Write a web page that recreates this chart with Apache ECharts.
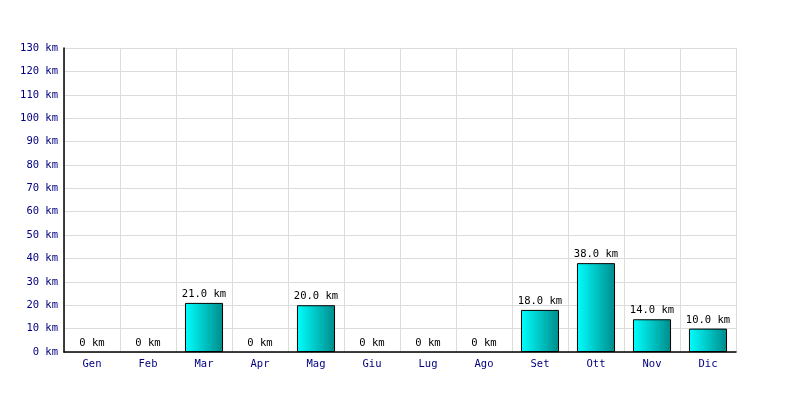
<!DOCTYPE html>
<html><head><meta charset="utf-8">
<script src="https://cdn.jsdelivr.net/npm/echarts@6/dist/echarts.min.js"></script>
<style>html,body{margin:0;padding:0;background:#fff}#c{width:800px;height:400px}</style>
</head><body><div id="c"></div>
<script>
const months = ['Gen','Feb','Mar','Apr','Mag','Giu','Lug','Ago','Set','Ott','Nov','Dic'];
const km = [0,0,21,0,20,0,0,0,18,38,14,10];
const yTicks = [0,10,20,30,40,50,60,70,80,90,100,110,120,130];

const font = 'DejaVu Sans Mono';
const chart = echarts.init(document.getElementById('c'), null, {renderer:'canvas'});
chart.setOption({
  animation:false,
  backgroundColor:'#fff',
  grid:{left:64,right:64,top:48,bottom:48,containLabel:false},
  xAxis:{
    type:'category', data:months, boundaryGap:true,
    axisLine:{show:true,lineStyle:{color:'#000',width:1.5}},
    axisTick:{show:false},
    axisLabel:{color:'#000080',fontFamily:font,fontSize:10.5,margin:7},
    splitLine:{show:true,lineStyle:{color:'#dcdcdc',width:1}}
  },
  yAxis:{
    type:'value', min:yTicks[0], max:yTicks[yTicks.length-1], interval:10,
    axisLine:{show:true,lineStyle:{color:'#000',width:1.5}},
    axisTick:{show:false},
    axisLabel:{color:'#000080',fontFamily:font,fontSize:10.5,margin:6,
      formatter:v=>v+' km'},
    splitLine:{show:true,lineStyle:{color:'#dcdcdc',width:1}}
  },
  series:[{
    type:'bar',
    data:km.map(v=>v===0?{value:v,itemStyle:{borderWidth:0,opacity:0}}:v),
    barWidth:'68%',
    itemStyle:{
      color:new echarts.graphic.LinearGradient(0,0,1,0,[{offset:0,color:'#00ffff'},{offset:1,color:'#008b8b'}]),
      borderColor:'#000',borderWidth:1
    },
    label:{show:true,position:'top',distance:3,color:'#000',fontFamily:font,fontSize:10.5,opacity:1,
      formatter:p=>p.value===0?'0 km':p.value.toFixed(1)+' km'}
  }]
});
</script></body></html>
